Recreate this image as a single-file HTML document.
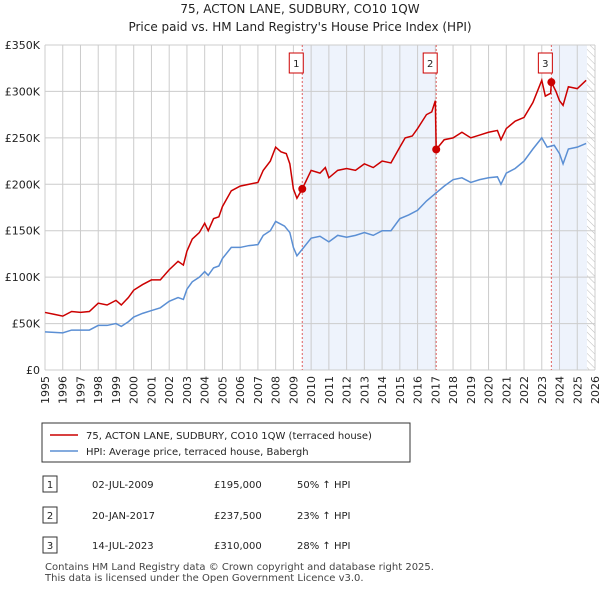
<!DOCTYPE html>
<html><head><meta charset="utf-8"><style>
body{margin:0;background:#fff;font-family:"Liberation Sans","DejaVu Sans",sans-serif;}
svg text{font-family:"DejaVu Sans","Liberation Sans",sans-serif;}
</style></head><body>
<svg id="c" width="600" height="590" viewBox="0 0 600 590" xmlns="http://www.w3.org/2000/svg">
<defs><pattern id="hatch" width="5" height="5" patternUnits="userSpaceOnUse" patternTransform="rotate(-45)"><line x1="0" y1="0" x2="0" y2="5" stroke="#bbb" stroke-width="1"/></pattern></defs>
<text x="300" y="13" text-anchor="middle" font-size="12" fill="#222">75, ACTON LANE, SUDBURY, CO10 1QW</text>
<text x="300" y="31" text-anchor="middle" font-size="12" fill="#222">Price paid vs. HM Land Registry's House Price Index (HPI)</text>
<g id="plot"></g>
<rect x="42" y="423" width="368" height="39" fill="#fff" stroke="#333"/>
<line x1="50" y1="435" x2="78" y2="435" stroke="#cc0000" stroke-width="1.5"/>
<text x="86" y="439" font-size="10" fill="#222">75, ACTON LANE, SUDBURY, CO10 1QW (terraced house)</text>
<line x1="50" y1="451" x2="78" y2="451" stroke="#5b8fd4" stroke-width="1.5"/>
<text x="86" y="455" font-size="10" fill="#222">HPI: Average price, terraced house, Babergh</text>
<g font-size="10" fill="#222">
<rect x="43" y="476" width="14" height="16" fill="#fff" stroke="#333"/><text x="50" y="488" text-anchor="middle">1</text>
<text x="92" y="488">02-JUL-2009</text><text x="214" y="488">£195,000</text><text x="297" y="488">50% ↑ HPI</text>
<rect x="43" y="507" width="14" height="16" fill="#fff" stroke="#333"/><text x="50" y="519" text-anchor="middle">2</text>
<text x="92" y="519">20-JAN-2017</text><text x="214" y="519">£237,500</text><text x="297" y="519">23% ↑ HPI</text>
<rect x="43" y="537" width="14" height="16" fill="#fff" stroke="#333"/><text x="50" y="549" text-anchor="middle">3</text>
<text x="92" y="549">14-JUL-2023</text><text x="214" y="549">£310,000</text><text x="297" y="549">28% ↑ HPI</text>
</g>
<text x="45" y="570" font-size="10" fill="#444">Contains HM Land Registry data © Crown copyright and database right 2025.</text>
<text x="45" y="581" font-size="10" fill="#444">This data is licensed under the Open Government Licence v3.0.</text>
</svg>
<script>
const yTicks=[0,50,100,150,200,250,300,350];
const yTickLabels=["£0","£50K","£100K","£150K","£200K","£250K","£300K","£350K"];
const years=[1995,1996,1997,1998,1999,2000,2001,2002,2003,2004,2005,2006,2007,2008,2009,2010,2011,2012,2013,2014,2015,2016,2017,2018,2019,2020,2021,2022,2023,2024,2025,2026];
const saleDates=[2009.5,2017.05,2023.54];
const salePrices=[195,237.5,310];
const saleLabels=["1","2","3"];
const priceT=[1995,1995.5,1996,1996.5,1997,1997.5,1998,1998.5,1999,1999.3,1999.7,2000,2000.5,2001,2001.5,2002,2002.5,2002.8,2003,2003.3,2003.7,2004,2004.2,2004.5,2004.8,2005,2005.5,2006,2006.5,2007,2007.3,2007.7,2008,2008.3,2008.6,2008.8,2009,2009.2,2009.5,2009.7,2010,2010.5,2010.8,2011,2011.5,2012,2012.5,2013,2013.5,2014,2014.5,2015,2015.3,2015.7,2016,2016.5,2016.8,2017,2017.05,2017.5,2018,2018.5,2019,2019.5,2020,2020.5,2020.7,2021,2021.5,2022,2022.5,2023,2023.2,2023.5,2023.54,2023.8,2024,2024.2,2024.5,2025,2025.5];
const priceV=[62,60,58,63,62,63,72,70,75,70,78,86,92,97,97,108,117,113,128,141,148,158,150,163,165,176,193,198,200,202,215,225,240,235,233,222,195,185,195,203,215,212,218,207,215,217,215,222,218,225,223,240,250,252,260,275,278,290,237.5,248,250,256,250,253,256,258,248,260,268,272,288,312,295,298,310,300,290,285,305,303,312];
const hpiT=[1995,1996,1996.5,1997,1997.5,1998,1998.5,1999,1999.3,1999.7,2000,2000.5,2001,2001.5,2002,2002.5,2002.8,2003,2003.3,2003.7,2004,2004.2,2004.5,2004.8,2005,2005.5,2006,2006.5,2007,2007.3,2007.7,2008,2008.5,2008.8,2009,2009.2,2009.5,2010,2010.5,2011,2011.5,2012,2012.5,2013,2013.5,2014,2014.5,2015,2015.5,2016,2016.5,2017,2017.5,2018,2018.5,2019,2019.5,2020,2020.5,2020.7,2021,2021.5,2022,2022.5,2023,2023.3,2023.7,2024,2024.2,2024.5,2025,2025.5];
const hpiV=[41,40,43,43,43,48,48,50,47,52,57,61,64,67,74,78,76,87,95,100,106,102,110,112,120,132,132,134,135,145,150,160,155,148,132,123,130,142,144,138,145,143,145,148,145,150,150,163,167,172,182,190,198,205,207,202,205,207,208,200,212,217,225,238,250,240,242,233,222,238,240,244];
const dataEnd=2025.55;
const X0=45,X1=595,Y0=370,Y1=45;
const x=t=>X0+(t-1995)/(2026-1995)*(X1-X0);
const y=v=>Y0-v/350*(Y0-Y1);
const NS="http://www.w3.org/2000/svg";
const g=document.getElementById('plot');
function mk(tag,attrs,parent){const e=document.createElementNS(NS,tag);for(const k in attrs)e.setAttribute(k,attrs[k]);(parent||g).appendChild(e);return e;}
let e;
e=mk('rect',{x:x(saleDates[0]),y:Y1,width:x(saleDates[1])-x(saleDates[0]),height:Y0-Y1,fill:'#eef3fc'});


e=mk('rect',{x:x(saleDates[2]),y:Y1,width:x(dataEnd)-x(saleDates[2]),height:Y0-Y1,fill:'#eef3fc'});


e=mk('rect',{x:x(dataEnd),y:Y1,width:X1-x(dataEnd),height:Y0-Y1,fill:'url(#hatch)'});


years.forEach(yr=>{
  e=mk('line',{x1:x(yr),x2:x(yr),y1:Y1,y2:Y0,stroke:'#ccc','stroke-width':1});
  
  
  e=mk('text',{x:0,y:0,'font-size':11,fill:'#222','text-anchor':'end',transform:`translate(${x(yr)+4},${Y0+6}) rotate(-90)`});
  e.textContent=yr;
  
  
});
yTicks.forEach((v,i)=>{
  e=mk('line',{x1:X0,x2:X1,y1:y(v),y2:y(v),stroke:'#ccc','stroke-width':1});
  
  
  e=mk('text',{x:X0-5,y:y(v)+4,'font-size':11,fill:'#222','text-anchor':'end'});
  e.textContent=yTickLabels[i];
  
  
});
saleDates.forEach((d,i)=>{
  e=mk('line',{x1:x(d),x2:x(d),y1:Y1,y2:Y0,stroke:'#e06060','stroke-width':1,'stroke-dasharray':'2,2'});
  
  
});
e=mk('polyline',{points:hpiT.map((t,i)=>x(t)+','+y(hpiV[i])).join(' '),fill:'none',stroke:'#5b8fd4','stroke-width':1.5});


e=mk('polyline',{points:priceT.map((t,i)=>x(t)+','+y(priceV[i])).join(' '),fill:'none',stroke:'#cc0000','stroke-width':1.5});


saleDates.forEach((d,i)=>{
  e=mk('circle',{cx:x(d),cy:y(salePrices[i]),r:4,fill:'#cc0000'});
  
  
  e=mk('rect',{x:x(d)-13,y:53,width:14,height:20,fill:'#fff',stroke:'#cc0000'});
  
  
  e=mk('text',{x:x(d)-6,y:67,'font-size':10,fill:'#222','text-anchor':'middle'});
  e.textContent=saleLabels[i];
  
  
});
</script>
</body></html>
